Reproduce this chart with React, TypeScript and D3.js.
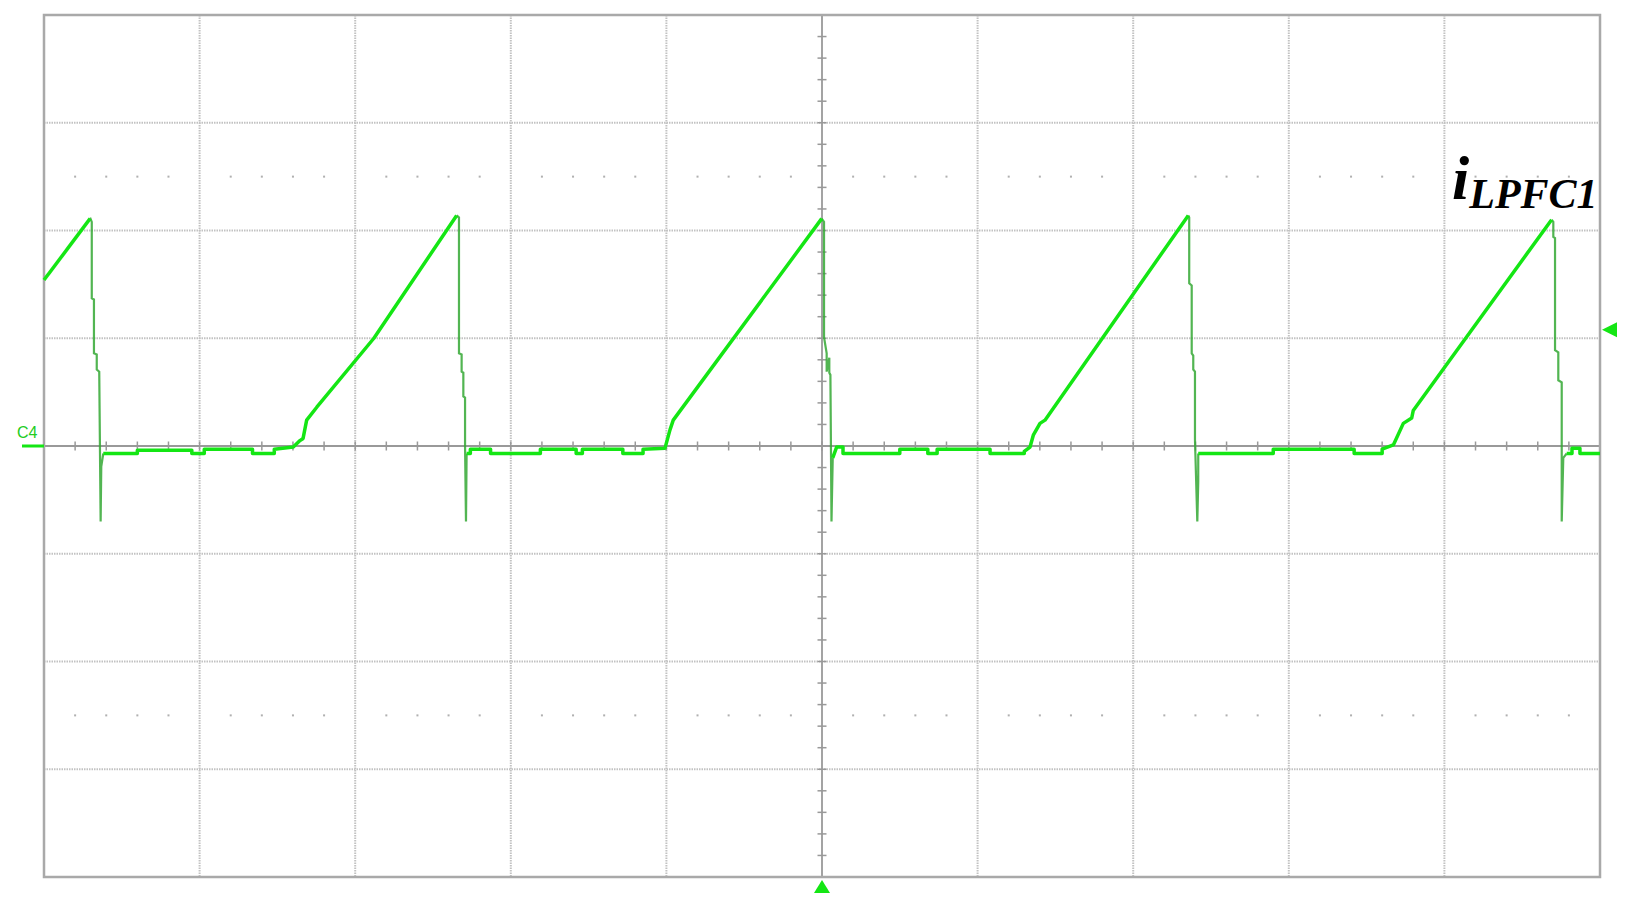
import * as d3 from "d3";

type Pt = [number, number];

// scope screen: 10 x 8 divisions, time and current given in divisions
const X_DIVS = 10;
const Y_DIVS = 8;

// slow parts of the trace (baseline + ramp), [t, v] in divisions
const sweep0: Pt[] = [
  [0, 1.54], [0.296, 2.11],
];
const sweep1: Pt[] = [
  [0.381, -0.07], [0.6, -0.07], [0.6, -0.04], [0.95, -0.04], [0.95, -0.07],
  [1.03, -0.07], [1.03, -0.03], [1.34, -0.03], [1.34, -0.07], [1.48, -0.07],
  [1.48, -0.03], [1.602, -0.01], [1.645, 0.05], [1.665, 0.07], [1.688, 0.24],
  [1.753, 0.36], [2.12, 1.0], [2.652, 2.14],
];
const sweep2: Pt[] = [
  [2.716, -0.07], [2.74, -0.07], [2.74, -0.03], [2.87, -0.03], [2.87, -0.07],
  [3.19, -0.07], [3.19, -0.03], [3.42, -0.03], [3.42, -0.07], [3.46, -0.07],
  [3.46, -0.03], [3.72, -0.03], [3.72, -0.07], [3.85, -0.07], [3.85, -0.03],
  [3.991, -0.02], [4.023, 0.15], [4.044, 0.24], [4.998, 2.11],
];
const sweep3: Pt[] = [
  [5.069, -0.11], [5.094, -0.01], [5.135, -0.01], [5.135, -0.07], [5.5, -0.07],
  [5.5, -0.03], [5.68, -0.03], [5.68, -0.07], [5.74, -0.07], [5.74, -0.03],
  [6.08, -0.03], [6.08, -0.07], [6.3, -0.07], [6.3, -0.05], [6.337, -0.01],
  [6.358, 0.1], [6.401, 0.21], [6.433, 0.24], [7.354, 2.14],
];
const sweep4: Pt[] = [
  [7.418, -0.07], [7.9, -0.07], [7.9, -0.03], [8.42, -0.03], [8.42, -0.07],
  [8.6, -0.07], [8.6, -0.03], [8.672, 0.01], [8.736, 0.21], [8.79, 0.26],
  [8.8, 0.33], [9.689, 2.1],
];
const sweep5: Pt[] = [
  [9.786, -0.07], [9.82, -0.07], [9.82, -0.02], [9.871, -0.02], [9.871, -0.07],
  [10, -0.07],
];

// fast falling edges after each peak
const fall0: Pt[] = [
  [0.296, 2.12], [0.307, 2.08], [0.307, 1.37], [0.321, 1.36], [0.321, 0.86],
  [0.339, 0.85], [0.339, 0.71], [0.355, 0.69], [0.364, -0.7], [0.368, -0.19],
  [0.381, -0.07],
];
const fall1: Pt[] = [
  [2.652, 2.14], [2.667, 2.12], [2.667, 0.86], [2.684, 0.85], [2.684, 0.69],
  [2.695, 0.68], [2.695, 0.46], [2.706, 0.45], [2.706, 0], [2.712, -0.7],
  [2.716, -0.07],
];
const fall2: Pt[] = [
  [4.998, 2.11], [5.013, 2.08], [5.013, 1.01], [5.03, 0.86], [5.03, 0.69],
  [5.047, 0.82], [5.047, 0.68], [5.054, 0.66], [5.061, -0.7], [5.069, -0.11],
];
const fall3: Pt[] = [
  [7.354, 2.14], [7.36, 2.12], [7.36, 1.51], [7.376, 1.49], [7.376, 0.86],
  [7.386, 0.84], [7.386, 0.71], [7.397, 0.69], [7.397, 0.06], [7.412, -0.7],
  [7.418, -0.33], [7.418, -0.07],
];
const fall4: Pt[] = [
  [9.689, 2.1], [9.7, 2.08], [9.7, 1.94], [9.711, 1.93], [9.711, 0.89],
  [9.732, 0.87], [9.732, 0.61], [9.754, 0.59], [9.754, -0.7], [9.764, -0.11],
  [9.786, -0.07],
];

const sweeps = [sweep0, sweep1, sweep2, sweep3, sweep4, sweep5];
const falls = [fall0, fall1, fall2, fall3, fall4];

const channelLabel = "C4";
const traceName = "i";
const traceSub = "LPFC1";
const triggerLevel = 1.08; // right-side marker, divisions
const markerTime = 5; // bottom marker, divisions

const W = 1633;
const H = 905;
const left = 44;
const right = 1600;
const top = 15;
const bottom = 877;

export default function App() {
  const x = d3.scaleLinear().domain([0, X_DIVS]).range([left, right]);
  const y = d3.scaleLinear().domain([-Y_DIVS / 2, Y_DIVS / 2]).range([bottom, top]);

  const line = d3
    .line<Pt>()
    .x((d) => x(d[0]))
    .y((d) => y(d[1]));

  const gridX = d3.range(1, X_DIVS);
  const gridY = d3.range(-Y_DIVS / 2 + 1, Y_DIVS / 2);
  const minorX = d3.range(1, X_DIVS * 5).map((k) => k / 5);
  const minorY = d3.range(1, Y_DIVS * 5).map((k) => k / 5 - Y_DIVS / 2);
  const dotRowX = minorX.filter((t) => Math.abs(t - Math.round(t)) > 1e-6);

  const gridColor = "#c2c2c2";
  const axisColor = "#999";
  const green = "#14e614";

  return (
    <svg
      width={W}
      height={H}
      style={{ position: "absolute", left: 0, top: 0, background: "#fff" }}
    >
      {/* dotted grid */}
      {gridX.filter((t) => t !== X_DIVS / 2).map((t) => (
        <line
          key={"gx" + t}
          x1={x(t)}
          x2={x(t)}
          y1={top}
          y2={bottom}
          stroke={gridColor}
          strokeWidth={2}
          strokeDasharray="1.5 1"
        />
      ))}
      {gridY.filter((v) => v !== 0).map((v) => (
        <line
          key={"gy" + v}
          x1={left}
          x2={right}
          y1={y(v)}
          y2={y(v)}
          stroke={gridColor}
          strokeWidth={2}
          strokeDasharray="1.5 1"
        />
      ))}
      {/* dotted rows at +-2.5 div */}
      {[2.5, -2.5].map((v) =>
        dotRowX.map((t) => (
          <rect
            key={"d" + v + "_" + t}
            x={x(t) - 1}
            y={y(v) - 1}
            width={2}
            height={2}
            fill="#b0b0b0"
          />
        ))
      )}
      {/* center axes with ticks */}
      <line x1={left} x2={right} y1={y(0)} y2={y(0)} stroke={axisColor} strokeWidth={1.8} />
      <line x1={x(5)} x2={x(5)} y1={top} y2={bottom} stroke={axisColor} strokeWidth={1.8} />
      {minorX.map((t) => (
        <line
          key={"tx" + t}
          x1={x(t)}
          x2={x(t)}
          y1={y(0) - 4.5}
          y2={y(0) + 4.5}
          stroke={axisColor}
          strokeWidth={1.5}
        />
      ))}
      {minorY.map((v) => (
        <line
          key={"ty" + v}
          x1={x(5) - 4.5}
          x2={x(5) + 4.5}
          y1={y(v)}
          y2={y(v)}
          stroke={axisColor}
          strokeWidth={1.5}
        />
      ))}
      {/* border */}
      <rect
        x={left}
        y={top}
        width={right - left}
        height={bottom - top}
        fill="none"
        stroke="#a9a9a9"
        strokeWidth={2.5}
      />

      {/* trace */}
      {falls.map((f, i) => (
        <path
          key={"f" + i}
          d={line(f) ?? ""}
          fill="none"
          stroke="#34a834"
          strokeOpacity={0.85}
          strokeWidth={2.2}
        />
      ))}
      {sweeps.map((s, i) => (
        <path
          key={"s" + i}
          d={line(s) ?? ""}
          fill="none"
          stroke={green}
          strokeWidth={3.5}
          strokeLinejoin="round"
        />
      ))}

      {/* channel marker */}
      <text
        x={17}
        y={y(0) - 8}
        fill="#22cc22"
        fontFamily="'Liberation Sans', Arial, sans-serif"
        fontSize={16}
      >
        {channelLabel}
      </text>
      <line x1={22} x2={left} y1={y(0)} y2={y(0)} stroke={green} strokeWidth={3} />

      {/* trigger markers */}
      <path
        d={`M${right + 2},${y(triggerLevel)} L${right + 17},${y(triggerLevel) - 7.5} L${right + 17},${y(triggerLevel) + 7.5} Z`}
        fill={green}
      />
      <path
        d={`M${x(markerTime)},${bottom + 3} L${x(markerTime) - 8},${bottom + 16} L${x(markerTime) + 8},${bottom + 16} Z`}
        fill={green}
      />

      {/* trace name */}
      <text
        x={1452}
        y={199}
        fontFamily="'Liberation Serif', 'Times New Roman', serif"
        fontWeight="bold"
        fontStyle="italic"
        fill="#000"
        fontSize={62}
      >
        {traceName}
        <tspan fontSize={42} dy={9}>
          {traceSub}
        </tspan>
      </text>
    </svg>
  );
}
